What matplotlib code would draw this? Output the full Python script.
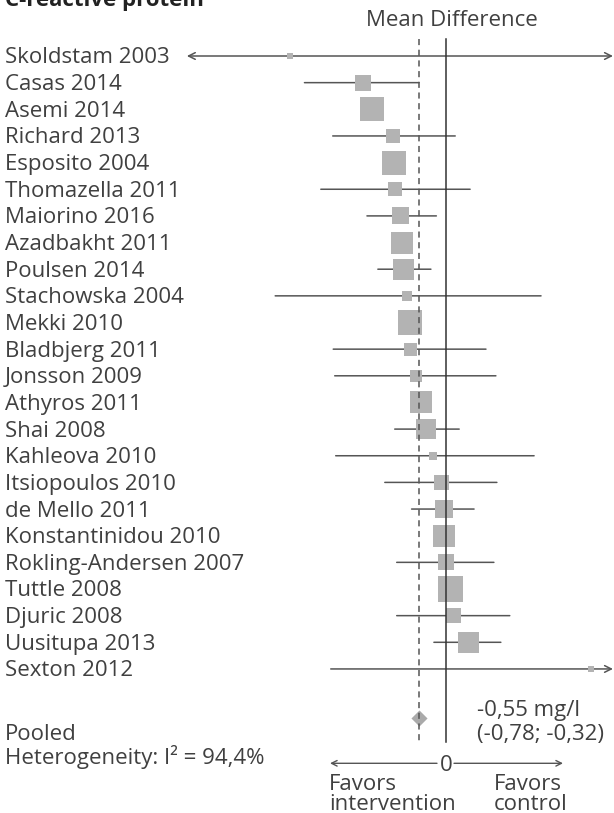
import numpy as np
import matplotlib.pyplot as plt

# Font list: geometric-ish sans first, DejaVu as fallback
plt.rcParams['font.family'] = ['Open Sans', 'DejaVu Sans']

# Study data (mean difference in CRP, mg/l, with 95% CI and weight %)
studies = ["Skoldstam 2003", "Casas 2014", "Asemi 2014", "Richard 2013",
           "Esposito 2004", "Thomazella 2011", "Maiorino 2016", "Azadbakht 2011",
           "Poulsen 2014", "Stachowska 2004", "Mekki 2010", "Bladbjerg 2011",
           "Jonsson 2009", "Athyros 2011", "Shai 2008", "Kahleova 2010",
           "Itsiopoulos 2010", "de Mello 2011", "Konstantinidou 2010",
           "Rokling-Andersen 2007", "Tuttle 2008", "Djuric 2008",
           "Uusitupa 2013", "Sexton 2012"]
mean_diff = [-3.15, -1.68, -1.50, -1.08, -1.05, -1.03, -0.93, -0.89,
             -0.87, -0.79, -0.73, -0.73, -0.61, -0.51, -0.41, -0.27,
             -0.10, -0.05, -0.05, -0.01, 0.08, 0.15, 0.45, 2.92]
ci_low = [-6.50, -2.86, -1.68, -2.29, -1.25, -2.53, -1.60, -1.08,
          -1.38, -3.45, -0.93, -2.28, -2.25, -0.70, -1.04, -2.23,
          -1.24, -0.70, -0.25, -1.00, -0.12, -1.00, -0.25, -2.33]
ci_high = [4.20, -0.55, -1.32, 0.18, -0.85, 0.48, -0.20, -0.70,
           -0.31, 1.91, -0.53, 0.80, 1.00, -0.32, 0.26, 1.77,
           1.02, 0.56, 0.15, 0.96, 0.28, 1.28, 1.10, 5.00]
weights = [0.4, 2.6, 5.8, 2.0, 5.8, 2.0, 2.9, 4.8, 4.4, 0.9, 5.8, 1.7,
           1.4, 4.8, 4.0, 0.6, 2.3, 3.2, 4.8, 2.6, 6.3, 2.3, 4.4, 0.3]

pooled_mean = -0.55
pooled_low = -0.78
pooled_high = -0.32
heterogeneity = "94,4%"

# Visible range of the forest plot
x_min, x_max = -5.23, 3.36

# Pixel layout helpers (figure is 614 x 813 px at 100 dpi)
W, H = 614, 813
ZERO_PX, PX_PER_UNIT = 446.3, 49.6
ROW0_PX, ROW_PX = 56.0, 26.65


def px2x(px):
    return (px - ZERO_PX) / PX_PER_UNIT


def py2y(py):
    return (py - ROW0_PX) / ROW_PX


text_col = '#404040'
line_col = '#555555'
box_col = '#b3b3b3'
fs = 16

fig = plt.figure(figsize=(W / 100, H / 100), dpi=100)
ax = fig.add_axes([0, 0, 1, 1])
ax.set_xlim(px2x(0), px2x(W))
ax.set_ylim(py2y(H), py2y(0))
ax.axis('off')

rows = np.arange(len(studies))

# Confidence intervals, with arrows when they run off the visible range
for y, lo, hi in zip(rows, ci_low, ci_high):
    left = max(lo, x_min)
    right = min(hi, x_max)
    style = '-'
    if lo < x_min and hi > x_max:
        style = '<->'
    elif lo < x_min:
        style = '<-'
    elif hi > x_max:
        style = '->'
    ax.annotate('', xy=(right, y), xytext=(left, y),
                arrowprops=dict(arrowstyle=style, color=line_col, lw=1.1,
                                shrinkA=0, shrinkB=0, mutation_scale=12),
                zorder=2)

# Weight boxes
sides_pt = 10 * np.sqrt(weights) * 0.72
ax.scatter(mean_diff, rows, s=sides_pt ** 2, marker='s', color=box_col,
           linewidths=0, zorder=3)

# Pooled estimate
pooled_row = len(studies) + 0.83
ax.scatter([pooled_mean], [pooled_row], s=8.2 ** 2, marker='D',
           color='#aaaaaa', linewidths=0, zorder=3)

# Reference lines
ax.plot([0, 0], [py2y(39), py2y(742)], color='#333333', lw=1.1, zorder=4)
ax.plot([pooled_mean, pooled_mean], [py2y(39), py2y(742)], color=line_col,
        lw=1.1, dashes=(4, 3), zorder=4)

# Study labels
for y, name in zip(rows, studies):
    ax.text(px2x(5), y + 0.28, name, fontsize=fs, color=text_col,
            va='baseline', ha='left')

# Title (partly cut off at top) and header
fig.text(5 / W, 1 - 6 / H, "C-reactive protein", fontsize=fs, weight='bold',
         color='#222222', va='baseline', ha='left')
ax.text(px2x(452), py2y(26.5), "Mean Difference", fontsize=fs,
        color=text_col, va='baseline', ha='center')

# Pooled text
ax.text(px2x(5), py2y(740.5), "Pooled", fontsize=fs, color=text_col,
        va='baseline')
ax.text(px2x(5), py2y(764), "Heterogeneity: I\u00b2 = " + heterogeneity,
        fontsize=fs, color=text_col, va='baseline')
ax.text(px2x(477), py2y(715.5), "{:.2f} mg/l".format(pooled_mean).replace('.', ','),
        fontsize=fs, color=text_col, va='baseline')
ax.text(px2x(477), py2y(740),
        "({:.2f}; {:.2f})".format(pooled_low, pooled_high).replace('.', ','),
        fontsize=fs, color=text_col, va='baseline')

# Bottom direction axis
axis_y = py2y(763.3)
arrow_kw = dict(arrowstyle='->', color=line_col, lw=1.0, shrinkA=0, shrinkB=0,
                mutation_scale=10)
ax.annotate('', xy=(px2x(330), axis_y), xytext=(px2x(437), axis_y),
            arrowprops=arrow_kw)
ax.annotate('', xy=(px2x(563), axis_y), xytext=(px2x(454), axis_y),
            arrowprops=arrow_kw)
ax.text(0, py2y(770.5), "0", fontsize=fs, color=text_col, va='baseline',
        ha='center')
ax.text(px2x(329), py2y(790), "Favors", fontsize=fs, color=text_col,
        va='baseline', ha='left')
ax.text(px2x(329), py2y(809.5), "intervention", fontsize=fs, color=text_col,
        va='baseline', ha='left')
ax.text(px2x(528), py2y(790), "Favors", fontsize=fs, color=text_col,
        va='baseline', ha='center')
ax.text(px2x(531), py2y(809.5), "control", fontsize=fs, color=text_col,
        va='baseline', ha='center')

fig.savefig("out.png", dpi=100)
